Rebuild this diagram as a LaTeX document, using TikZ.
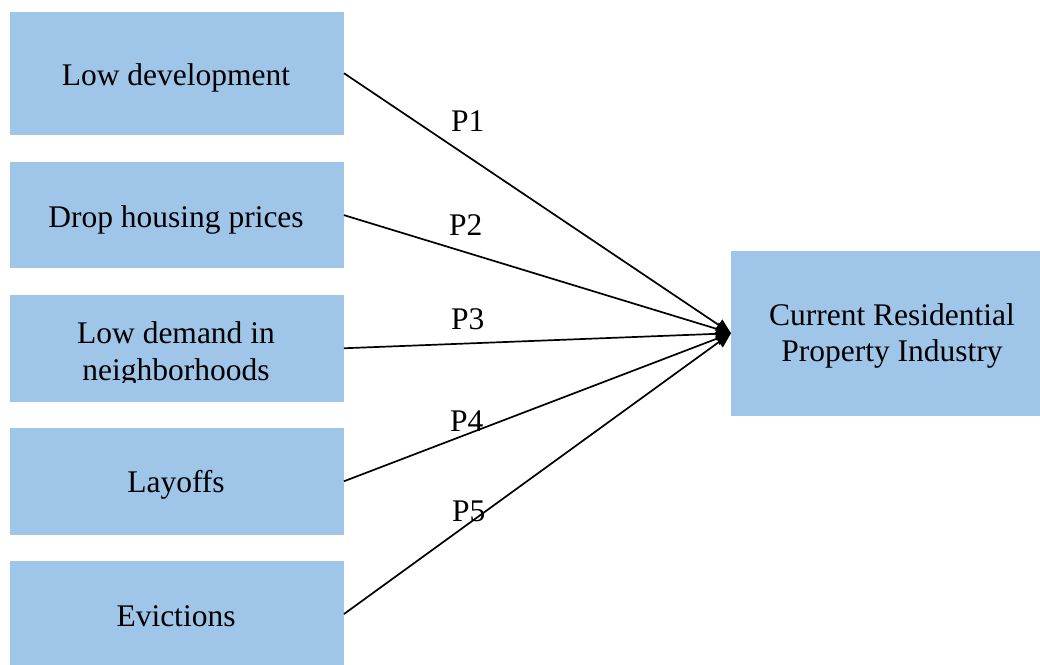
\documentclass[tikz,border=0pt]{standalone}
\usepackage{fontspec}
\setmainfont{Liberation Serif}
\usetikzlibrary{arrows.meta}
\definecolor{boxblue}{RGB}{159,197,232}
\begin{document}
\begin{tikzpicture}[x=1pt,y=-1pt,
  box/.style={fill=boxblue, draw=none, inner sep=0pt, outer sep=0pt, anchor=north west, minimum width=334pt},
  txt/.style={anchor=base, inner sep=0pt, font=\fontsize{31.5}{36.7}\selectfont},
  plabel/.style={anchor=base west, inner sep=0pt, font=\fontsize{31.5}{36.7}\selectfont},
  conn/.style={line width=1.7pt, -{Triangle[length=15pt,width=13pt]}}]
\useasboundingbox (0,0) rectangle (1040,664);
\clip (0,0) rectangle (1040,664);
% boxes
\node[box, minimum height=122.5pt] (b1) at (10,12) {};
\node[box, minimum height=106.3pt] (b2) at (10,162) {};
\node[box, minimum height=106.5pt] (b3) at (10,295) {};
\node[box, minimum height=106.5pt] (b4) at (10,428) {};
\node[box, minimum height=106pt] (b5) at (10,561) {};
\node[box, minimum width=312pt, minimum height=164.5pt] (cur) at (731,251) {};
% texts
\node[txt] (t1) at (176,85) {Low development};
\node[txt] (t2) at (176,227.3) {Drop housing prices};
\begin{scope}
  \clip (10,295) rectangle (344,382);
  \node[txt] (t3a) at (176,343.3) {Low demand in};
  \node[txt] (t3b) at (176,380) {neighborhoods};
\end{scope}
\node[txt] (t4) at (176,492.7) {Layoffs};
\node[txt] (t5) at (176,626) {Evictions};
\node[txt] (tc1) at (892,325) {Current Residential};
\node[txt] (tc2) at (892,361.7) {Property Industry};
% connectors
\coordinate (tip) at (cur.west);
\draw[conn] (b1.east) -- (tip);
\draw[conn] (b2.east) -- (tip);
\draw[conn] (b3.east) -- (tip);
\draw[conn] (b4.east) -- (tip);
\draw[conn] (b5.east) -- (tip);
% labels
\node[plabel] (p1) at (451,131.7) {P1};
\node[plabel] (p2) at (449,235) {P2};
\node[plabel] (p3) at (451,329.3) {P3};
\node[plabel] (p4) at (450,431.7) {P4};
\node[plabel] (p5) at (452,521.7) {P5};
\end{tikzpicture}
\end{document}
